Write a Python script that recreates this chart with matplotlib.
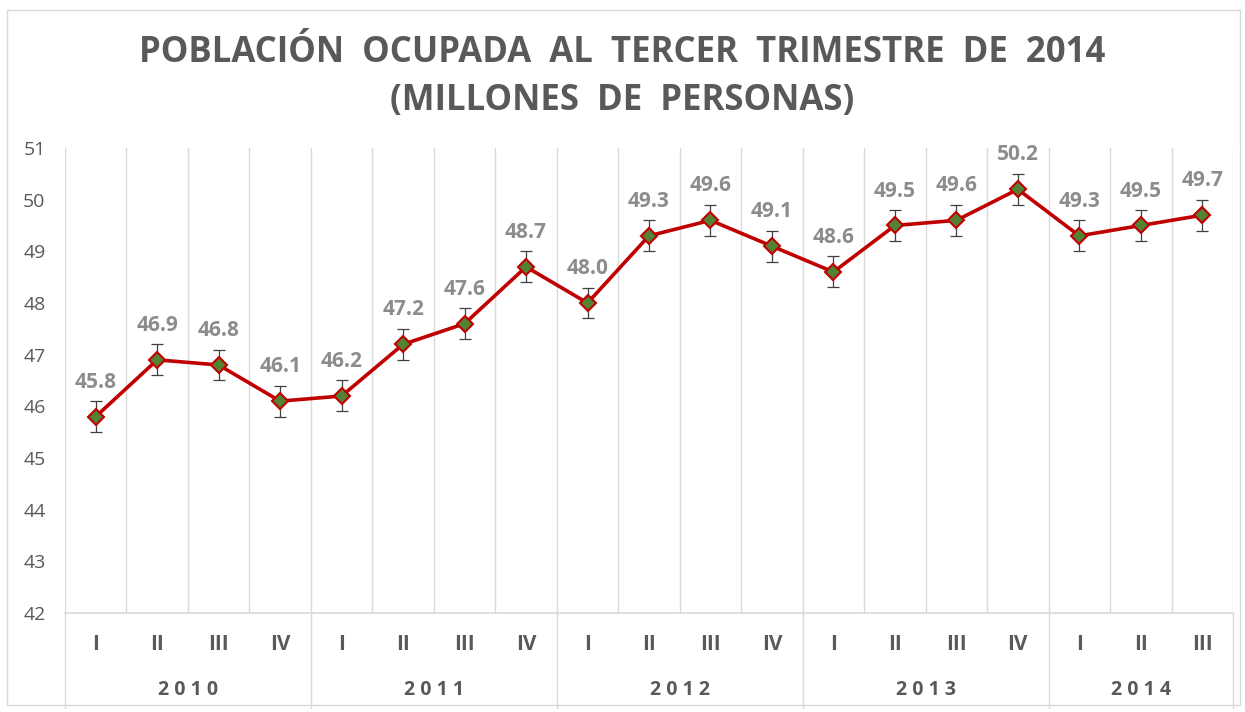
import matplotlib
matplotlib.use("Agg")
import matplotlib.pyplot as plt
from matplotlib.patches import Rectangle
from matplotlib.lines import Line2D

years = ["2010", "2011", "2012", "2013", "2014"]
quarters = [["I", "II", "III", "IV"], ["I", "II", "III", "IV"], ["I", "II", "III", "IV"],
            ["I", "II", "III", "IV"], ["I", "II", "III"]]
values = [45.8, 46.9, 46.8, 46.1, 46.2, 47.2, 47.6, 48.7, 48.0, 49.3, 49.6, 49.1,
          48.6, 49.5, 49.6, 50.2, 49.3, 49.5, 49.7]
errors = [0.3] * len(values)

W, H = 1245, 712
fig = plt.figure(figsize=(W / 100, H / 100), dpi=100)
fig.patch.set_facecolor("white")

# outer border
fig.add_artist(Rectangle((7 / W, 1 - 705 / H), (1240 - 7) / W, (705 - 10) / H,
                         transform=fig.transFigure, fill=False, edgecolor="#d9d9d9", lw=1))

x0, x1 = 65, 1233
ytop, ybot = 148, 613
ax = fig.add_axes([x0 / W, 1 - ybot / H, (x1 - x0) / W, (ybot - ytop) / H])
n = len(values)
xs = list(range(n))
ax.set_xlim(-0.5, n - 0.5)
ax.set_ylim(42, 51)
for s in ax.spines.values():
    s.set_visible(False)
ax.spines["bottom"].set_visible(True)
ax.spines["bottom"].set_color("#d9d9d9")
ax.spines["bottom"].set_linewidth(1.2)

for b in range(n + 1):
    ax.axvline(b - 0.5, color="#d9d9d9", lw=1, zorder=0)

ax.set_yticks(range(42, 52))
ax.tick_params(axis="y", length=0, labelsize=14, labelcolor="#595959", pad=14)
for lab in ax.get_yticklabels():
    lab.set_family("Open Sans")
ax.set_xticks([])

ax.errorbar(xs, values, yerr=errors, fmt="none", ecolor="#404040", elinewidth=0.9,
            capsize=4, capthick=0.9, zorder=2)
ax.plot(xs, values, color="#c00000", lw=2.6, marker="D", markersize=8,
        markerfacecolor="#548235", markeredgecolor="#c00000", markeredgewidth=1.5, zorder=3)

for x, v, e in zip(xs, values, errors):
    ax.annotate(f"{v:.1f}", (x, v + e), xytext=(0, 6), textcoords="offset points",
                ha="center", va="bottom", fontsize=15, fontweight="bold", color="#8c8c8c",
                family="Open Sans")

# category labels
def xfig(xd):
    return (x0 + (xd + 0.5) / n * (x1 - x0)) / W

i = 0
bounds = [0]
for yr, qs in zip(years, quarters):
    start = i
    for q in qs:
        fig.text(xfig(i), 1 - 645 / H, q,
                 ha="center", va="center", fontsize=15,
                 fontweight="bold", color="#595959", family="Open Sans")
        i += 1
    fig.text(xfig((start + i - 1) / 2), 1 - 690 / H, " ".join(yr), ha="center",
             va="center", fontsize=14, fontweight="bold", color="#595959", family="Open Sans")
    bounds.append(i)

for b in bounds:
    xf = xfig(b - 0.5)
    fig.add_artist(Line2D([xf, xf], [1 - 708 / H, 1 - ybot / H], transform=fig.transFigure,
                          color="#d9d9d9", lw=1))

fig.text(0.5, 1 - 53 / H, "POBLACIÓN  OCUPADA  AL  TERCER  TRIMESTRE  DE  2014",
         ha="center", va="center", fontsize=25, fontweight="bold", color="#595959",
         family="Open Sans")
fig.text(0.5, 1 - 101 / H, "(MILLONES  DE  PERSONAS)",
         ha="center", va="center", fontsize=25, fontweight="bold", color="#595959",
         family="Open Sans")

fig.savefig("out.png", dpi=100, facecolor="white")
